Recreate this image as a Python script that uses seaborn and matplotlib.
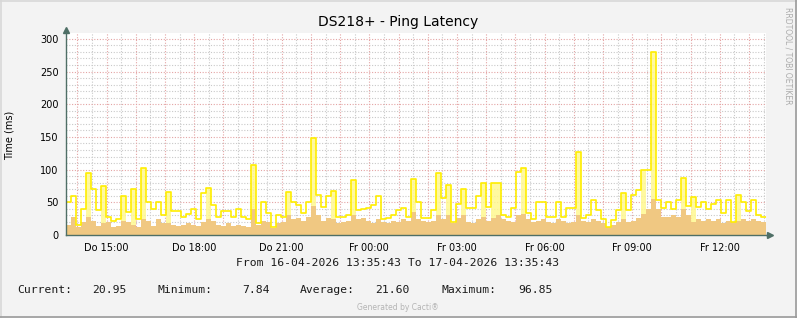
import numpy as np
import pandas as pd
import matplotlib
matplotlib.use("Agg")
import matplotlib.pyplot as plt
import seaborn as sns
from matplotlib.lines import Line2D

# ---------------- data ----------------
max_ms = [
    50, 60, 16, 40, 95, 70, 38, 75, 28, 22, 24, 60, 35, 70, 25, 102, 50, 40, 50, 30,
    66, 36, 36, 27, 32, 40, 25, 64, 72, 46, 27, 36, 36, 27, 40, 27, 25, 107, 18, 51,
    33, 13, 31, 27, 66, 51, 46, 33, 51, 148, 61, 43, 60, 68, 27, 27, 31, 84, 38, 40,
    41, 46, 60, 25, 26, 30, 38, 42, 28, 85, 51, 26, 26, 38, 95, 56, 76, 20, 48, 71,
    41, 41, 59, 80, 43, 80, 80, 30, 27, 41, 97, 102, 33, 25, 51, 51, 27, 27, 51, 28,
    41, 41, 127, 26, 30, 54, 38, 25, 13, 23, 38, 64, 38, 61, 69, 100, 100, 280, 54, 41,
    51, 40, 54, 87, 45, 58, 43, 51, 40, 48, 54, 33, 54, 20, 61, 51, 36, 54, 30, 28,
]
avg_ms = [
    15, 28, 12, 20, 28, 22, 14, 18, 20, 12, 14, 22, 20, 15, 12, 25, 22, 14, 24, 18,
    18, 15, 14, 16, 18, 15, 14, 20, 25, 22, 16, 14, 18, 14, 15, 14, 13, 40, 16, 22,
    20, 10, 18, 20, 30, 24, 26, 22, 28, 45, 30, 22, 26, 24, 18, 20, 22, 30, 24, 26,
    22, 18, 25, 20, 18, 22, 20, 24, 22, 35, 24, 22, 20, 22, 30, 25, 30, 18, 26, 30,
    20, 18, 24, 28, 22, 26, 30, 25, 22, 20, 30, 32, 24, 20, 22, 24, 20, 18, 24, 22,
    18, 20, 30, 22, 20, 24, 22, 18, 12, 16, 20, 24, 20, 22, 26, 32, 40, 55, 40, 28,
    28, 30, 28, 40, 30, 20, 25, 22, 25, 22, 25, 18, 22, 20, 22, 24, 22, 24, 22, 20,
]
x_labels = ["Do 15:00", "Do 18:00", "Do 21:00", "Fr 00:00",
            "Fr 03:00", "Fr 06:00", "Fr 09:00", "Fr 12:00"]
y_ticks = [0, 50, 100, 150, 200, 250, 300]
legend_names = ["Current:", "Minimum:", "Average:", "Maximum:"]
legend_values = ["20.95", "7.84", "21.60", "96.85"]
title = "DS218+ - Ping Latency"
ylabel = "Time (ms)"
range_text = "From 16-04-2026 13:35:43 To 17-04-2026 13:35:43"

# ---------------- style ----------------
sns.set_theme(style="white")
plt.rcParams["font.family"] = ["DejaVu Sans"]

W, H = 797, 318
BG = "#F3F3F3"
AXC = "#4F6F66"
RED = "#E4A4A4"
GRAY = "#C9C9C9"
ORANGE = "#F0C882"
YELLOW = "#FFEE00"
LIGHTY = "#FFF890"

fig = plt.figure(figsize=(W / 100, H / 100), dpi=100, facecolor=BG)
x0, x1, ytop, ybot = 65.5, 766.3, 33, 235
ax = fig.add_axes([x0 / W, (H - ybot) / H, (x1 - x0) / W, (ybot - ytop) / H])
ax.set_facecolor("white")

n = len(max_ms)
t = np.linspace(0, 24, n + 1)
mx = np.array(max_ms + [max_ms[-1]], dtype=float)
av = np.array(avg_ms + [avg_ms[-1]], dtype=float)
df = pd.DataFrame({"t": t, "max": mx, "avg": av})

ymax = 309
ax.set_xlim(0, 24)
ax.set_ylim(0, ymax)

# grid
off = 0.405  # 14:00 relative to 13:35:43
major_x = np.arange(off, 24, 1.0)
minor_x = np.arange(off - 0.5, 24, 1.0)
minor_x = minor_x[minor_x > 0]
for v in minor_x:
    ax.axvline(v, color=GRAY, lw=0.8, ls=(0, (1, 1.5)), zorder=0)
for v in np.arange(10, ymax, 10):
    if v % 50:
        ax.axhline(v, color=GRAY, lw=0.8, ls=(0, (1, 1.5)), zorder=0)
for v in major_x:
    ax.axvline(v, color=RED, lw=0.8, ls=(0, (1, 1.5)), zorder=0)
for v in y_ticks[1:]:
    ax.axhline(v, color=RED, lw=0.8, ls=(0, (1, 1.5)), zorder=0)

# data
ax.fill_between(df["t"], 0, df["avg"], step="post", color=ORANGE, lw=0, zorder=2)
m = np.array(max_ms, dtype=float)
a = np.array(avg_ms, dtype=float)
left = np.r_[m[0], m[:-1]]
right = np.r_[m[1:], m[-1]]
peak = (m >= left) & (m >= right) & ((m - a) > 35)
top = np.where(peak, m, a)
top = np.r_[top, top[-1]]
ax.fill_between(df["t"], df["avg"], top, step="post",
                color=LIGHTY, lw=0, alpha=0.85, zorder=2)
sns.lineplot(data=df, x="t", y="max", ax=ax, color=YELLOW, linewidth=1.2,
             drawstyle="steps-post", sort=False, estimator=None, zorder=3)

# ticks
lab_pos = [1.405 + 3 * k for k in range(len(x_labels))]
ax.set_xticks(lab_pos)
ax.set_xticklabels(x_labels)
ax.set_yticks(y_ticks)
ax.set_yticklabels([str(v) for v in y_ticks])
ax.tick_params(axis="both", labelsize=7, colors="#000000", length=2,
               width=0.8, pad=3, color=RED)
ax.tick_params(axis="x", pad=4)
ax.set_xlabel("")
ax.set_ylabel("")

for s in ["top", "right"]:
    ax.spines[s].set_visible(False)
for s in ["left", "bottom"]:
    ax.spines[s].set_color(AXC)
    ax.spines[s].set_linewidth(1.0)
    ax.spines[s].set_zorder(5)

# axis arrows
ax.plot([0, 0], [ymax, 313], color=AXC, lw=1.0, clip_on=False, zorder=5)
ax.plot([0], [314], marker="^", color=AXC, ms=4, clip_on=False, zorder=6)
ax.plot([24, 24.1], [0, 0], color=AXC, lw=1.0, clip_on=False, zorder=5)
ax.plot([24.14], [0], marker=">", color=AXC, ms=4, clip_on=False, zorder=6)

# texts
fig.text(398 / W, 1 - 22 / H, title, ha="center", va="center", fontsize=10, color="#000000")
fig.text(10 / W, 1 - 135 / H, ylabel, ha="center", va="center", rotation=90,
         fontsize=7, color="#000000")
fig.text(788 / W, 1 - 56 / H, "RRDTOOL / TOBI OETIKER", ha="center", va="center",
         rotation=270, fontsize=5.5, color="#ABABAB")
fig.text(398 / W, 1 - 263 / H, range_text, ha="center", va="center",
         fontsize=8.2, family="DejaVu Sans Mono", color="#1A1A1A")
name_x = [17, 158, 300, 442]
val_x = [127, 270, 410, 553]
for nm, vl, nx, vx in zip(legend_names, legend_values, name_x, val_x):
    fig.text(nx / W, 1 - 290 / H, nm, ha="left", va="center", fontsize=8.2,
             family="DejaVu Sans Mono", color="#1A1A1A")
    fig.text(vx / W, 1 - 290 / H, vl, ha="right", va="center", fontsize=8.2,
             family="DejaVu Sans Mono", color="#1A1A1A")
fig.text(398 / W, 1 - 307 / H, "Generated by Cacti\u00ae", ha="center", va="center",
         fontsize=5.5, color="#B4B4B4")

# frame
fig.add_artist(Line2D([0, 1], [1 - 0.5 / H, 1 - 0.5 / H], color="#D8D8D8", lw=1.2))
fig.add_artist(Line2D([0.5 / W, 0.5 / W], [0, 1], color="#D8D8D8", lw=1.2))
fig.add_artist(Line2D([0, 1], [1.5 / H, 1.5 / H], color="#9A9A9A", lw=1.2))
fig.add_artist(Line2D([1 - 1.5 / W, 1 - 1.5 / W], [0, 1], color="#9A9A9A", lw=1.2))

fig.savefig("out.png", dpi=100, facecolor=BG)
